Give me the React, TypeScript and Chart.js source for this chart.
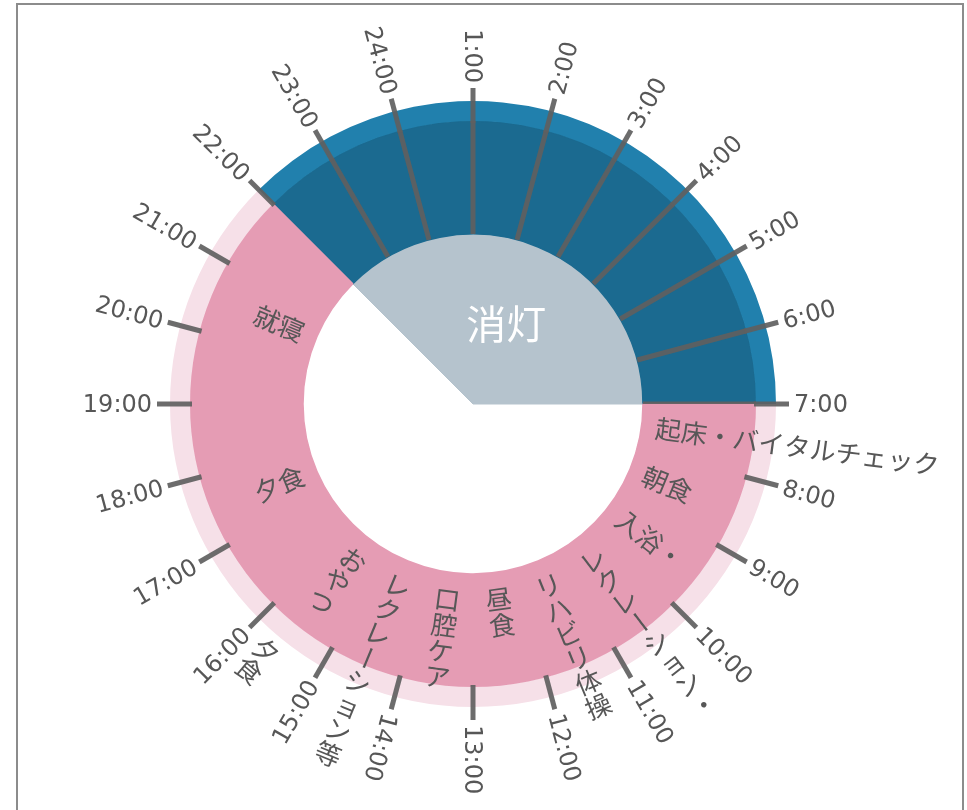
import React, { useEffect, useRef } from "react";
import { Chart, registerables } from "chart.js";

Chart.register(...registerables);

// ---- data ----
const SEGMENT_LABELS = ["消灯", "起床〜就寝"];
const SEGMENT_HOURS = [9, 15];
const LIGHTS_OUT_HOUR = 22;
const NIGHT_LABEL = "消灯";

const HOUR_VALUES = [1, 2, 3, 4, 5, 6, 7, 8, 9, 10, 11, 12, 13, 14, 15, 16, 17, 18, 19, 20, 21, 22, 23, 24];
const HOUR_LABELS = [
  "1:00", "2:00", "3:00", "4:00", "5:00", "6:00", "7:00", "8:00", "9:00", "10:00", "11:00", "12:00",
  "13:00", "14:00", "15:00", "16:00", "17:00", "18:00", "19:00", "20:00", "21:00", "22:00", "23:00", "24:00",
];
const NIGHT_TICK_HOURS = [23, 24, 1, 2, 3, 4, 5, 6, 7];

const ACTIVITY_TEXTS = [
  "起床・バイタルチェック", "朝食", "入浴・", "レクレーション・", "リハビリ体操", "昼食",
  "口腔ケア", "レクレーション等", "おやつ", "夕食", "就寝", "夕食",
];
const ACTIVITY_HOURS = [7.5, 8.5, 9.5, 10.5, 11.5, 12.5, 13.5, 14.5, 15.5, 17.5, 20.5, 15.67];
const ACTIVITY_OUTSIDE = [false, false, false, false, false, false, false, false, false, false, false, true];

// ---- styles ----
const LIGHT_BLUE = "#2180ad";
const DARK_BLUE = "#1b6a90";
const GRAY = "#b5c3cd";
const PINK = "#e59cb4";
const LIGHT_PINK = "#f6e0e8";
const TICK_COLOR = "rgba(96,96,96,0.92)";
const TEXT_COLOR = "#575757";
const JP_FONT = '"Noto Sans CJK JP", "Noto Sans", sans-serif';
const NUM_FONT = '"DejaVu Sans", sans-serif';

const norm = (d: number) => ((((d + 180) % 360) + 360) % 360) - 180;

function drawRadialText(
  ctx: CanvasRenderingContext2D,
  cx: number,
  cy: number,
  text: string,
  clockDeg: number,
  r0: number,
  size: number
) {
  const rad = (clockDeg * Math.PI) / 180;
  const ux = Math.sin(rad);
  const uy = -Math.cos(rad);
  const modes = [
    { k: "hOut", phi: norm(clockDeg - 90) },
    { k: "hIn", phi: norm(clockDeg + 90) },
    { k: "vOut", phi: norm(clockDeg + 180) },
    { k: "vIn", phi: norm(clockDeg) },
  ];
  modes.sort((a, b) => Math.abs(a.phi) - Math.abs(b.phi));
  const m = modes[0];
  ctx.save();
  ctx.translate(cx + ux * r0, cy + uy * r0);
  ctx.rotate((m.phi * Math.PI) / 180);
  ctx.font = `${size}px ${JP_FONT}`;
  ctx.fillStyle = TEXT_COLOR;
  ctx.textBaseline = "middle";
  if (m.k === "hOut" || m.k === "hIn") {
    ctx.textAlign = m.k === "hOut" ? "left" : "right";
    ctx.fillText(text, 0, 0);
  } else {
    const chars = Array.from(text);
    const n = chars.length;
    ctx.textAlign = "center";
    chars.forEach((ch, i) => {
      const y = m.k === "vOut" ? (i + 0.5) * size : -(n - i - 0.5) * size;
      if (ch === "ー") {
        ctx.save();
        ctx.translate(0, y);
        ctx.rotate(Math.PI / 2);
        ctx.fillText(ch, 0, 0);
        ctx.restore();
      } else {
        ctx.fillText(ch, 0, y);
      }
    });
  }
  ctx.restore();
}

const clockPlugin = {
  id: "clockDecor",
  afterDatasetsDraw(chart: any) {
    const ctx: CanvasRenderingContext2D = chart.ctx;
    const outerMeta = chart.getDatasetMeta(0);
    const mainMeta = chart.getDatasetMeta(1);
    const centerMeta = chart.getDatasetMeta(2);
    const nightArc: any = mainMeta.data[0];
    const cx = nightArc.x;
    const cy = nightArc.y;
    const step = (nightArc.endAngle - nightArc.startAngle) / SEGMENT_HOURS[0];
    const theta = (h: number) => nightArc.startAngle + (h - LIGHTS_OUT_HOUR) * step;
    const ringOuter = (outerMeta.data[0] as any).outerRadius;
    const mainOuter = nightArc.outerRadius;
    const mainInner = nightArc.innerRadius;
    const tickEnd = ringOuter + 13;
    const labelR = ringOuter + 18;

    ctx.save();
    ctx.strokeStyle = TICK_COLOR;
    ctx.lineWidth = 5;
    ctx.lineCap = "butt";

    // inner ticks across the night sector (clipped to it)
    ctx.save();
    ctx.beginPath();
    ctx.moveTo(cx, cy);
    ctx.arc(cx, cy, mainOuter + 1, nightArc.startAngle, nightArc.endAngle);
    ctx.closePath();
    ctx.clip();
    NIGHT_TICK_HOURS.forEach((h) => {
      const t = theta(h);
      ctx.beginPath();
      ctx.moveTo(cx + Math.cos(t) * mainInner, cy + Math.sin(t) * mainInner);
      ctx.lineTo(cx + Math.cos(t) * mainOuter, cy + Math.sin(t) * mainOuter);
      ctx.stroke();
    });
    ctx.restore();

    // outer ticks for every hour
    HOUR_VALUES.forEach((h) => {
      const t = theta(h);
      ctx.beginPath();
      ctx.moveTo(cx + Math.cos(t) * (mainOuter - 2), cy + Math.sin(t) * (mainOuter - 2));
      ctx.lineTo(cx + Math.cos(t) * tickEnd, cy + Math.sin(t) * tickEnd);
      ctx.stroke();
    });
    ctx.restore();

    // hour labels
    ctx.save();
    ctx.font = `24px ${NUM_FONT}`;
    ctx.fillStyle = TEXT_COLOR;
    ctx.textBaseline = "middle";
    HOUR_VALUES.forEach((h, i) => {
      const t = theta(h);
      const a = ((((t * 180) / Math.PI + 90) % 360) + 360) % 360;
      const outward = a > 0.5 && a < 200;
      ctx.save();
      ctx.translate(cx + Math.cos(t) * labelR, cy + Math.sin(t) * labelR);
      if (outward) {
        ctx.rotate(((a - 90) * Math.PI) / 180);
        ctx.textAlign = "left";
      } else {
        ctx.rotate(((a + 90) * Math.PI) / 180);
        ctx.textAlign = "right";
      }
      ctx.fillText(HOUR_LABELS[i], 0, 2);
      ctx.restore();
    });
    ctx.restore();

    // activity labels
    ACTIVITY_TEXTS.forEach((txt, i) => {
      const t = theta(ACTIVITY_HOURS[i]);
      const a = (t * 180) / Math.PI + 90;
      const r0 = ACTIVITY_OUTSIDE[i] ? ringOuter + 6 : mainInner + 14;
      drawRadialText(ctx, cx, cy, txt, a, r0, 26);
    });

    // night label in the centre sector
    const grayArc: any = centerMeta.data[0];
    const mid = (grayArc.startAngle + grayArc.endAngle) / 2;
    const rr = grayArc.outerRadius * 0.51;
    ctx.save();
    ctx.font = `40px ${JP_FONT}`;
    ctx.fillStyle = "#ffffff";
    ctx.textAlign = "center";
    ctx.textBaseline = "middle";
    ctx.fillText(NIGHT_LABEL, cx + Math.cos(mid) * rr, cy + Math.sin(mid) * rr);
    ctx.restore();
  },
};

export default function App() {
  const canvasRef = useRef<HTMLCanvasElement | null>(null);

  useEffect(() => {
    if (!canvasRef.current) return;
    const chart = new Chart(canvasRef.current, {
      type: "doughnut",
      data: {
        labels: SEGMENT_LABELS,
        datasets: [
          {
            data: SEGMENT_HOURS,
            backgroundColor: [LIGHT_BLUE, LIGHT_PINK],
            borderColor: [LIGHT_BLUE, LIGHT_PINK],
            borderWidth: 0,
            weight: 20,
          } as any,
          {
            data: SEGMENT_HOURS,
            backgroundColor: [DARK_BLUE, PINK],
            borderColor: [DARK_BLUE, PINK],
            borderWidth: 1.5,
            weight: 113,
          } as any,
          {
            data: SEGMENT_HOURS,
            backgroundColor: [GRAY, "rgba(0,0,0,0)"],
            borderColor: [GRAY, "rgba(0,0,0,0)"],
            borderWidth: 1,
            weight: 170,
          } as any,
        ],
      },
      options: {
        responsive: false,
        animation: false,
        devicePixelRatio: 1,
        rotation: (LIGHTS_OUT_HOUR - 1) * 15 - 360,
        circumference: 360,
        cutout: 0,
        radius: 303,
        layout: { padding: { left: 0, right: 21, top: 0, bottom: 2 } },
        events: [],
        plugins: {
          legend: { display: false },
          tooltip: { enabled: false },
          title: { display: false },
        },
      } as any,
      plugins: [clockPlugin],
    });
    return () => chart.destroy();
  }, []);

  return (
    <div style={{ position: "fixed", left: 0, top: 0, width: 967, height: 810, background: "#fff", overflow: "hidden" }}>
      <div
        style={{
          position: "absolute",
          left: 16,
          top: 3,
          width: 948,
          height: 900,
          boxSizing: "border-box",
          border: "2px solid #8c8c8c",
        }}
      />
      <canvas ref={canvasRef} width={967} height={810} style={{ position: "absolute", left: 0, top: 0, width: 967, height: 810 }} />
    </div>
  );
}
